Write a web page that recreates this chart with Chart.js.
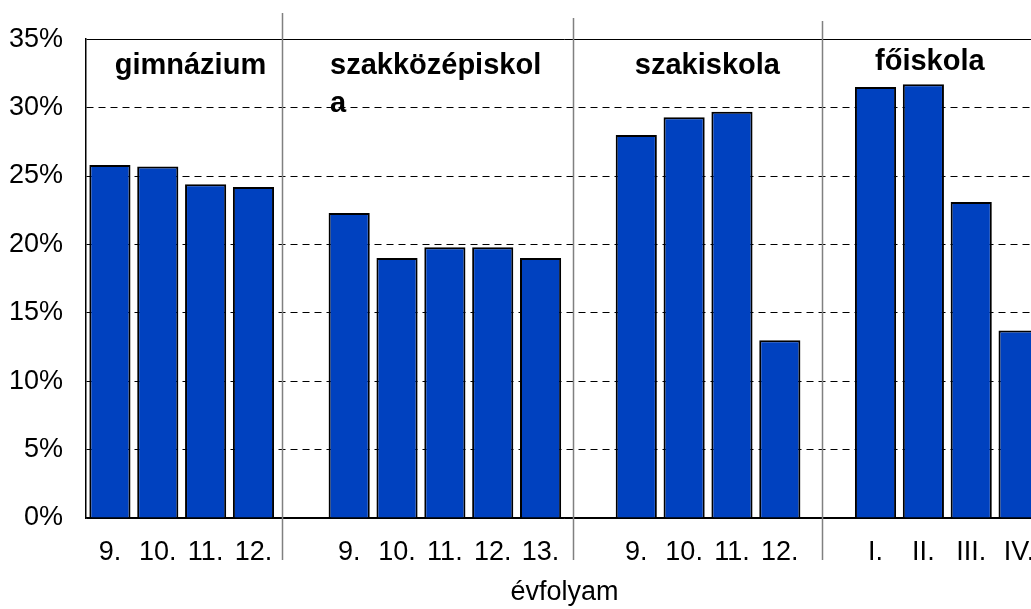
<!DOCTYPE html>
<html>
<head>
<meta charset="utf-8">
<script src="https://cdn.jsdelivr.net/npm/chart.js@4.4.1/dist/chart.umd.min.js"></script>
<style>
  html, body { margin: 0; padding: 0; background: #fff; overflow: hidden; }
  #wrap { width: 1031px; height: 609px; overflow: hidden; }
</style>
</head>
<body>
<div id="wrap"><canvas id="chart" width="1060" height="609"></canvas></div>
<script>
// one slot per grade, empty slots between the school types
const slotLabels = ["9.", "10.", "11.", "12.", "",
  "9.", "10.", "11.", "12.", "13.", "",
  "9.", "10.", "11.", "12.", "",
  "I.", "II.", "III.", "IV."];
const shareValues = [25.8, 25.7, 24.4, 24.2, null,
  22.3, 19.0, 19.8, 19.8, 19.0, null,
  28.0, 29.3, 29.7, 13.0, null,
  31.5, 31.7, 23.1, 13.7];
const groupNames = [["gimnázium"], ["szakközépiskol", "a"], ["szakiskola"], ["főiskola"]];
const xTitle = "évfolyam";

const FONT = "Arial, 'Liberation Sans', sans-serif";

// where separators and group names sit, in category units
const sepAt = [3.6, 9.68, 14.88];
const sepTop = [13, 18, 21];
const nameAt = [0.1, 4.6, 10.97, 15.99];
const nameBase = [74, 74, 74, 70];

const groupPlugin = {
  id: "groups",
  afterDatasetsDraw(chart) {
    const ctx = chart.ctx;
    const x = chart.scales.x;
    ctx.save();
    ctx.strokeStyle = "#808080";
    ctx.lineWidth = 1.5;
    sepAt.forEach((v, i) => {
      const px = Math.round(x.getPixelForValue(v)) + 0.5;
      ctx.beginPath();
      ctx.moveTo(px, sepTop[i]);
      ctx.lineTo(px, 560);
      ctx.stroke();
    });
    ctx.fillStyle = "#000";
    ctx.font = "bold 29px " + FONT;
    ctx.textAlign = "left";
    ctx.textBaseline = "alphabetic";
    groupNames.forEach((lines, i) => {
      const px = x.getPixelForValue(nameAt[i]);
      lines.forEach((t, j) => ctx.fillText(t, px, nameBase[i] + j * 38));
    });
    ctx.restore();
  }
};

new Chart(document.getElementById("chart"), {
  type: "bar",
  data: {
    labels: slotLabels,
    datasets: [{
      data: shareValues,
      backgroundColor: "#0041bf",
      borderColor: "#000",
      borderWidth: 2,
      barPercentage: 0.86,
      categoryPercentage: 1
    }]
  },
  options: {
    responsive: false,
    animation: false,
    layout: { padding: { top: 34, right: 17, left: 0, bottom: 0 } },
    plugins: { legend: { display: false }, tooltip: { enabled: false } },
    scales: {
      x: {
        grid: { display: false },
        border: { display: true, color: "#000", width: 1.5 },
        ticks: { color: "#000", font: { family: FONT, size: 27 }, padding: 10, maxRotation: 0, autoSkip: false },
        title: { display: true, text: xTitle, color: "#000", font: { family: FONT, size: 27 }, padding: 0 },
        afterFit(s) { s.height = 91; }
      },
      y: {
        min: 0,
        max: 35,
        ticks: {
          stepSize: 5,
          color: "#000",
          font: { family: FONT, size: 27 },
          padding: 23,
          callback: v => v + "%"
        },
        grid: {
          drawTicks: false,
          color: "#000",
          lineWidth: 1
        },
        border: {
          display: true,
          color: "#000",
          width: 1.5,
          dash: c => (c.tick && (c.tick.value === 0 || c.tick.value === 35)) ? [] : [7, 5]
        },
        afterFit(s) { s.width = 86; }
      }
    }
  },
  plugins: [groupPlugin]
});
</script>
</body>
</html>
